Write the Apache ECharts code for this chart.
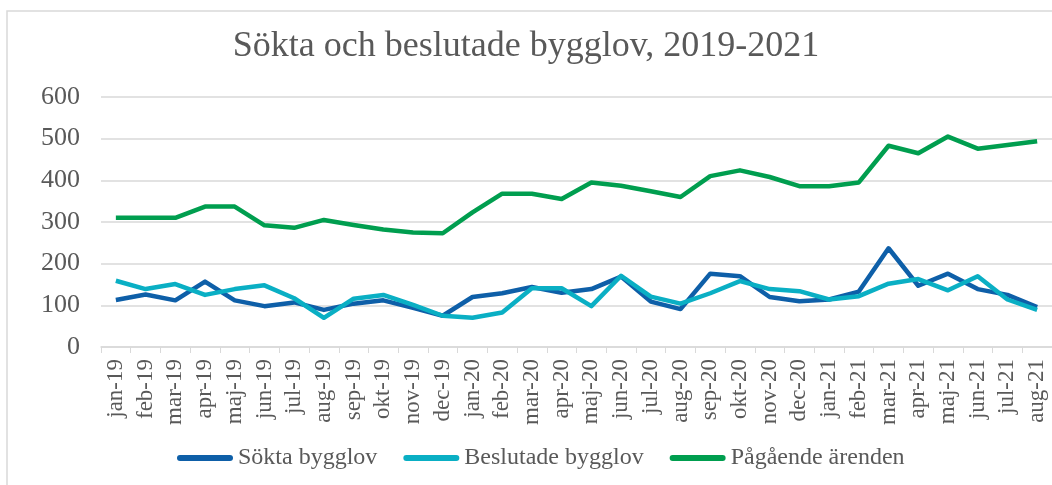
<!DOCTYPE html>
<html>
<head>
<meta charset="utf-8">
<script src="https://cdn.jsdelivr.net/npm/echarts@6/dist/echarts.min.js"></script>
<style>
  html, body { margin: 0; padding: 0; background: #fff; }
  #chart { width: 1052px; height: 485px; }
</style>
</head>
<body>
<div id="chart"></div>
<script>
// månader jan-19 .. aug-21
const months = [
  'jan-19', 'feb-19', 'mar-19', 'apr-19', 'maj-19', 'jun-19', 'jul-19', 'aug-19',
  'sep-19', 'okt-19', 'nov-19', 'dec-19', 'jan-20', 'feb-20', 'mar-20', 'apr-20',
  'maj-20', 'jun-20', 'jul-20', 'aug-20', 'sep-20', 'okt-20', 'nov-20', 'dec-20',
  'jan-21', 'feb-21', 'mar-21', 'apr-21', 'maj-21', 'jun-21', 'jul-21', 'aug-21'
];
const soktaBygglov = [
  113, 126, 112, 157, 112, 98, 107, 89, 104, 112, 94, 75,
  120, 129, 144, 130, 139, 169, 109, 91, 176, 170, 120, 110,
  114, 133, 237, 147, 176, 139, 125, 96
];
const beslutadeBygglov = [
  159, 139, 151, 125, 139, 148, 117, 70, 116, 125, 101, 75,
  70, 83, 141, 141, 98, 171, 121, 104, 129, 158, 139, 134,
  114, 122, 152, 163, 136, 170, 114, 89
];
const pagaendeArenden = [
  310, 310, 310, 337, 337, 292, 286, 305, 293, 282, 275, 273,
  323, 368, 368, 355, 395, 387, 374, 360, 410, 424, 408, 386,
  386, 395, 483, 465, 505, 476, 485, 494
];
const yTicks = [0, 100, 200, 300, 400, 500, 600];

const serif = '"Liberation Serif", "DejaVu Serif", serif';
const textColor = '#595959';
// pill-shaped legend line
const pillIcon = 'path://M3,0 L53,0 A3,3 0 0 1 53,6 L3,6 A3,3 0 0 1 3,0 Z';

let myChart = echarts.init(document.getElementById('chart'));
let option = {
  animation: false,
  backgroundColor: '#fff',
  title: {
    text: 'Sökta och beslutade bygglov, 2019-2021',
    left: 'center',
    top: 24,
    textStyle: { fontFamily: serif, fontSize: 36, fontWeight: 'normal', color: textColor }
  },
  legend: {
    left: 177,
    top: 446,
    padding: 0,
    itemGap: 26,
    itemWidth: 56,
    itemHeight: 6,
    icon: pillIcon,
    textStyle: { fontFamily: serif, fontSize: 24, color: textColor },
    data: ['Sökta bygglov', 'Beslutade bygglov', 'Pågående ärenden']
  },
  grid: {
    left: 101,
    top: 97,
    width: 953,
    height: 250,
    containLabel: false
  },
  xAxis: {
    type: 'category',
    data: months,
    boundaryGap: true,
    axisLine: { lineStyle: { color: '#d9d9d9', width: 1.5 } },
    axisTick: { show: true, interval: 0, length: 6, lineStyle: { color: '#d9d9d9' } },
    axisLabel: {
      interval: 0,
      rotate: 90,
      margin: 12,
      fontFamily: serif,
      fontSize: 23,
      color: textColor
    }
  },
  yAxis: {
    type: 'value',
    min: yTicks[0],
    max: yTicks[yTicks.length - 1],
    interval: 100,
    axisLine: { show: false },
    axisTick: { show: false },
    splitLine: { lineStyle: { color: '#d9d9d9', width: 1.5 } },
    axisLabel: { margin: 21, fontFamily: serif, fontSize: 26, color: textColor }
  },
  series: [
    {
      name: 'Sökta bygglov',
      type: 'line',
      data: soktaBygglov,
      symbol: 'none',
      lineStyle: { width: 4.5, color: '#0E5FA8', join: 'round' },
      itemStyle: { color: '#0E5FA8' },
      z: 3
    },
    {
      name: 'Beslutade bygglov',
      type: 'line',
      data: beslutadeBygglov,
      symbol: 'none',
      lineStyle: { width: 4.5, color: '#0AAFC4', join: 'round' },
      itemStyle: { color: '#0AAFC4' },
      z: 4
    },
    {
      name: 'Pågående ärenden',
      type: 'line',
      data: pagaendeArenden,
      symbol: 'none',
      lineStyle: { width: 4.5, color: '#009E4F', join: 'round' },
      itemStyle: { color: '#009E4F' },
      z: 5
    }
  ],
  graphic: [{
    type: 'rect',
    shape: { x: 7, y: 11, width: 1100, height: 500 },
    style: { fill: 'none', stroke: '#d9d9d9', lineWidth: 1.5 },
    silent: true
  }]
};
myChart.setOption(option);
</script>
</body>
</html>
